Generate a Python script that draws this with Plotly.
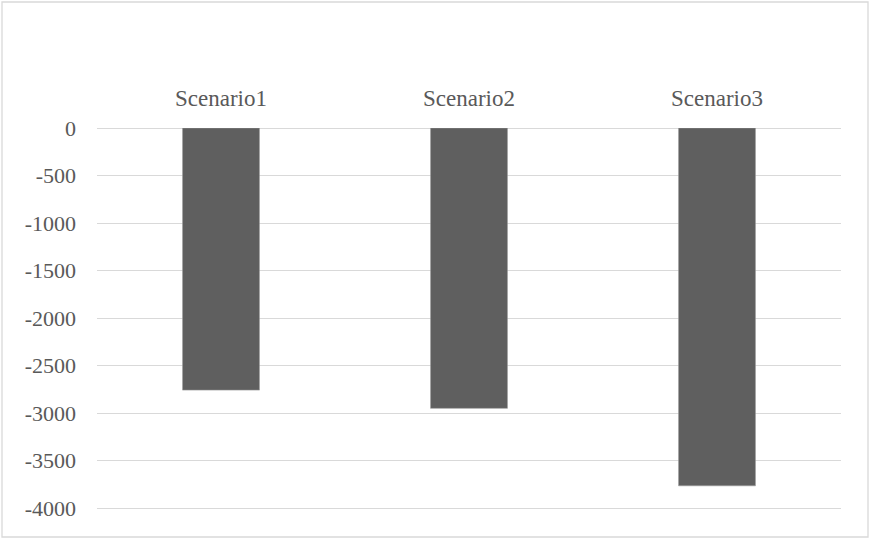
import plotly.graph_objects as go

categories = ["Scenario1", "Scenario2", "Scenario3"]
values = [-2758, -2950, -3765]
y_ticks = [0, -500, -1000, -1500, -2000, -2500, -3000, -3500, -4000]

fig = go.Figure()
fig.add_trace(go.Bar(
    x=categories, y=values,
    marker=dict(color="#5f5f5f", line=dict(color="#9a9a9a", width=0.6)),
))

font_family = "Liberation Serif"
fig.update_layout(
    width=869, height=538,
    margin=dict(l=97, r=28, t=128, b=27),
    paper_bgcolor="white", plot_bgcolor="white",
    bargap=0.69,
    showlegend=False,
    font=dict(family=font_family, size=22, color="#595959"),
    xaxis=dict(side="top", showgrid=False, showline=False, ticks="",
               ticklabelstandoff=16, tickfont=dict(family=font_family, size=23, color="#595959")),
    yaxis=dict(range=[-4030, 0], tickvals=y_ticks, ticktext=[str(v) for v in y_ticks],
               showgrid=True, gridcolor="#d9d9d9", gridwidth=1.3,
               zeroline=True, zerolinecolor="#d9d9d9", zerolinewidth=1.3,
               showline=False, ticks="", ticklabelstandoff=20,
               tickfont=dict(family=font_family, size=22, color="#595959")),
    shapes=[dict(type="rect", xref="paper", yref="paper", layer="below",
                 x0=-95/744, x1=1.0 + 27/744, y0=-26/383, y1=1.0 + 126/383,
                 line=dict(color="#d9d9d9", width=1.3), fillcolor="rgba(0,0,0,0)")],
)

fig.write_html("out.html")
